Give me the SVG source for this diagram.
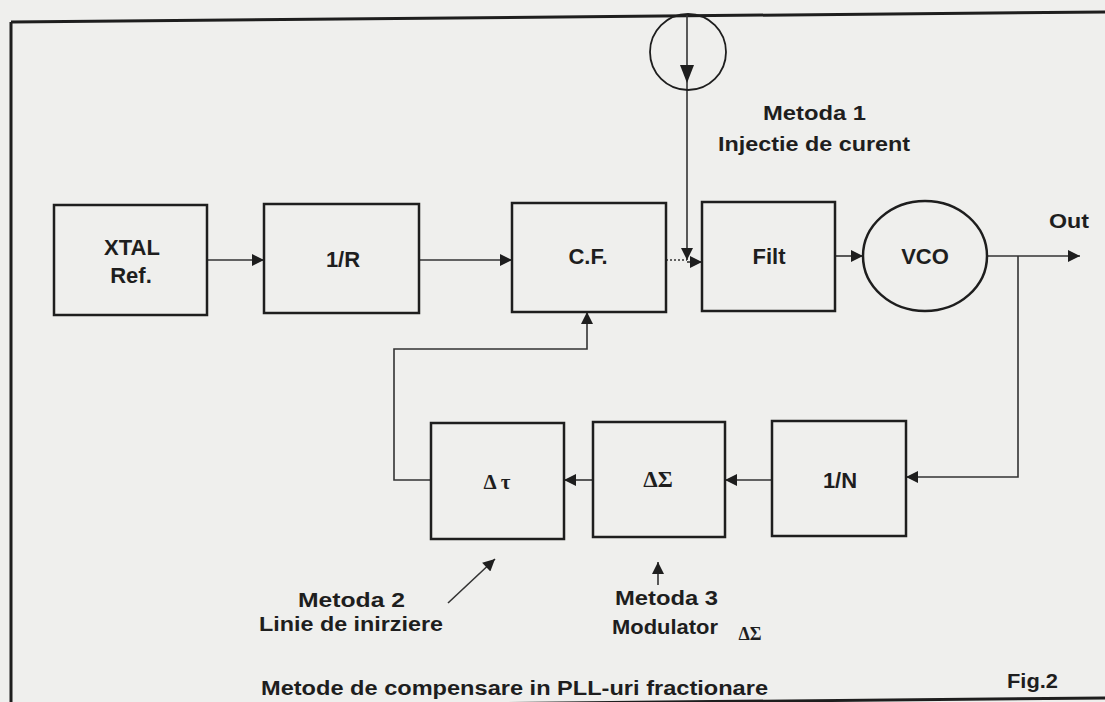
<svg xmlns="http://www.w3.org/2000/svg" width="1105" height="702" viewBox="0 0 1105 702">
<style>
.box{fill:none;stroke:#1e1e1e;stroke-width:2.5}
.con{fill:none;stroke:#333;stroke-width:1.6}
.lbl{font-family:"Liberation Sans",Arial,sans-serif;font-weight:bold;font-size:22px;fill:#1e1e1e;text-anchor:middle}
.ann{font-family:"Liberation Sans",Arial,sans-serif;font-weight:bold;font-size:20px;fill:#1e1e1e}
.sym{font-family:"Liberation Serif","Times New Roman",serif;font-weight:bold;fill:#1e1e1e;text-anchor:middle}
</style>
<defs>
<marker id="ah" viewBox="0 0 10 10" refX="10" refY="5" markerWidth="16" markerHeight="12" markerUnits="userSpaceOnUse" orient="auto">
<path d="M0,0 L10,5 L0,10 z" fill="#1e1e1e"/>
</marker>
</defs>
<rect x="0" y="0" width="1105" height="702" fill="#efefed"/>
<g id="frame">
<path d="M11,22 L1105,12" stroke="#1e1e1e" stroke-width="3" fill="none"/>
<path d="M11,22 L11,702" stroke="#1e1e1e" stroke-width="3" fill="none"/>
<path d="M11,708 L1105,698" stroke="#1e1e1e" stroke-width="3" fill="none"/>
</g>
<g id="connectors">
<path class="con" d="M207,260 H264" marker-end="url(#ah)"/>
<path class="con" d="M419,260 H512" marker-end="url(#ah)"/>
<path class="con" d="M666,260 H687" stroke-dasharray="2,2"/>
<path class="con" d="M687,15 V260" stroke-width="2" marker-end="url(#ah)"/>
<path class="con" d="M687,262 H702" stroke-width="2.5" marker-end="url(#ah)"/>
<path d="M680,65 L694,65 L687,83 z" fill="#1e1e1e"/>
<path class="con" d="M835,256 H863" marker-end="url(#ah)"/>
<path class="con" d="M987,256 H1080" marker-end="url(#ah)"/>
<path class="con" d="M1018,256 V477 H906" marker-end="url(#ah)"/>
<path class="con" d="M772,480 H725" marker-end="url(#ah)"/>
<path class="con" d="M593,480 H564" marker-end="url(#ah)"/>
<path class="con" d="M431,480 H394 V349 H587 V312" marker-end="url(#ah)"/>
<path class="con" d="M448,603 L495,559" marker-end="url(#ah)"/>
<path class="con" d="M658,585 V562" marker-end="url(#ah)"/>
</g>
<g id="xtal">
<rect class="box" x="54" y="205" width="153" height="110"/>
<text class="lbl" x="132" y="255">XTAL</text>
<text class="lbl" x="131" y="283">Ref.</text>
</g>
<g id="divR">
<rect class="box" x="264" y="204" width="155" height="109"/>
<text class="lbl" x="343" y="267">1/R</text>
</g>
<g id="cf">
<rect class="box" x="512" y="203" width="154" height="109"/>
<text class="lbl" x="588" y="264">C.F.</text>
</g>
<g id="filt">
<rect class="box" x="702" y="202" width="133" height="109"/>
<text class="lbl" x="769" y="264">Filt</text>
</g>
<g id="vco">
<ellipse class="box" cx="925" cy="256" rx="62" ry="55"/>
<text class="lbl" x="925" y="264">VCO</text>
</g>
<g id="isrc">
<circle cx="688" cy="52" r="38" fill="none" stroke="#1e1e1e" stroke-width="1.8"/>
</g>
<g id="dtau">
<rect class="box" x="431" y="423" width="133" height="116"/>
<text class="sym" x="497" y="489" font-size="21">Δ τ</text>
</g>
<g id="dsigma">
<rect class="box" x="593" y="422" width="132" height="115"/>
<text class="sym" x="658" y="487" font-size="23">ΔΣ</text>
</g>
<g id="divN">
<rect class="box" x="772" y="421" width="134" height="115"/>
<text class="lbl" x="840" y="488">1/N</text>
</g>
<g id="labels">
<text class="ann" x="763" y="120" textLength="103" lengthAdjust="spacingAndGlyphs">Metoda 1</text>
<text class="ann" x="718" y="151" textLength="192" lengthAdjust="spacingAndGlyphs">Injectie de curent</text>
<text class="ann" x="1049" y="228" textLength="40" lengthAdjust="spacingAndGlyphs">Out</text>
<text class="ann" x="298" y="607" textLength="107" lengthAdjust="spacingAndGlyphs">Metoda 2</text>
<text class="ann" x="259" y="631" textLength="184" lengthAdjust="spacingAndGlyphs">Linie de inirziere</text>
<text class="ann" x="615" y="605" textLength="103" lengthAdjust="spacingAndGlyphs">Metoda 3</text>
<text class="ann" x="612" y="634" textLength="106" lengthAdjust="spacingAndGlyphs">Modulator</text>
<text class="sym" x="750" y="640" font-size="18" font-weight="normal">ΔΣ</text>
<text class="ann" x="261" y="695" textLength="507" lengthAdjust="spacingAndGlyphs">Metode de compensare in PLL-uri fractionare</text>
<text class="ann" x="1007" y="688" textLength="51" lengthAdjust="spacingAndGlyphs">Fig.2</text>
</g>
</svg>
